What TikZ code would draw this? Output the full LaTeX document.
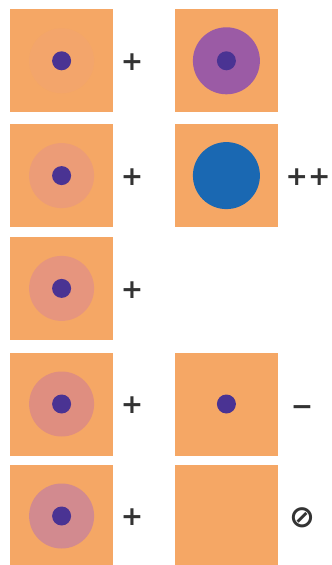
\documentclass[tikz,border=0pt]{standalone}
\usepackage{fontspec}
\setmainfont{DejaVu Sans}
\usepackage{tikz}
\usetikzlibrary{positioning}
\definecolor{skin}{HTML}{F5A765}
\definecolor{core}{HTML}{4A3393}
\definecolor{haloA}{HTML}{F3A56B}
\definecolor{haloB}{HTML}{EC9C77}
\definecolor{haloC}{HTML}{E6957E}
\definecolor{haloD}{HTML}{DF8E80}
\definecolor{haloE}{HTML}{D28A8F}
\definecolor{violet}{HTML}{9B5BA5}
\definecolor{deepblue}{HTML}{1A68B2}
\definecolor{ink}{HTML}{333333}

\begin{document}
\begin{tikzpicture}[
  font=\bfseries\fontsize{19}{20}\selectfont,
  sq/.style={fill=skin, minimum size=2.575cm, inner sep=0pt},
  dot/.style={circle, fill=core, minimum size=0.475cm, inner sep=0pt},
  halo/.style={circle, fill=#1, minimum size=1.625cm, inner sep=0pt},
  big/.style={circle, fill=#1, minimum size=1.675cm, inner sep=0pt},
  sgn/.style={text=ink, inner sep=0pt}
]
\useasboundingbox (0,0) rectangle (8.275,-14.125);
% left column
\node[sq] (sq1) at (1.54,-1.52) {};
\node[sq] (sq2) at (1.54,-4.39) {};
\node[sq] (sq3) at (1.54,-7.21) {};
\node[sq] (sq4) at (1.54,-10.1) {};
\node[sq] (sq5) at (1.54,-12.9) {};
\node[halo=haloA] (ha1) at (sq1.center) {};
\node[halo=haloB] (ha2) at (sq2.center) {};
\node[halo=haloC] (ha3) at (sq3.center) {};
\node[halo=haloD] (ha4) at (sq4.center) {};
\node[halo=haloE] (ha5) at (sq5.center) {};
\node[dot] (d1) at (sq1.center) {};
\node[dot] (d2) at (sq2.center) {};
\node[dot] (d3) at (sq3.center) {};
\node[dot] (d4) at (sq4.center) {};
\node[dot] (d5) at (sq5.center) {};
\node[sgn] (p1) at (3.3,-1.56) {+};
\node[sgn] (p2) at (3.3,-4.43) {+};
\node[sgn] (p3) at (3.3,-7.25) {+};
\node[sgn] (p4) at (3.3,-10.14) {+};
\node[sgn] (p5) at (3.3,-12.94) {+};
% right column
\node[sq] (rq1) at (5.66,-1.52) {};
\node[sq] (rq2) at (5.66,-4.39) {};
\node[sq] (rq4) at (5.66,-10.1) {};
\node[sq] (rq5) at (5.66,-12.9) {};
\node[big=violet] (bv) at (rq1.center) {};
\node[dot] (rd1) at (rq1.center) {};
\node[big=deepblue] (bb) at (rq2.center) {};
\node[dot] (rd4) at (rq4.center) {};
\node[sgn] (s2) at (7.7,-4.43) {++};
\node[sgn] (s4) at (7.55,-10.26) {−};
\node[sgn, font=\bfseries\fontsize{22}{24}\selectfont] (s5) at (7.55,-12.95) {⊘};
\end{tikzpicture}
\end{document}
